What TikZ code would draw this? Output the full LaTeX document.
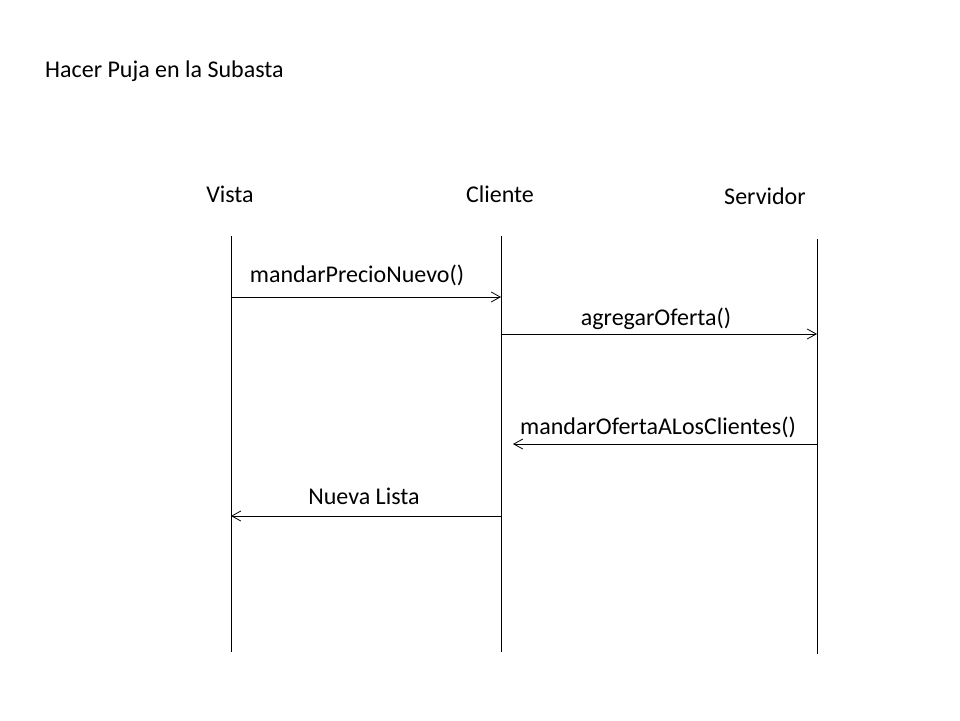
\documentclass[tikz,border=0pt]{standalone}
\usepackage{fontspec}
\setmainfont{Carlito}
\usetikzlibrary{arrows.meta}
\begin{document}
\begin{tikzpicture}[x=1pt,y=-1pt,
  lbl/.style={font=\fontsize{24}{29}\selectfont, inner sep=0pt},
  life/.style={draw=black, line width=0.8pt},
  msg/.style={draw=black, line width=0.8pt, -{Straight Barb[length=9pt,width=10pt,line width=0.8pt]}}]
\useasboundingbox (0,0) rectangle (960,720);
\node[lbl, anchor=west] (title) at (45,71) {Hacer Puja en la Subasta};
\node[lbl] (hv) at (230,194) {Vista};
\node[lbl] (hc) at (500,194) {Cliente};
\node[lbl] (hs) at (765,196) {Servidor};
\coordinate (v1) at (231,236); \coordinate (v2) at (231,652);
\coordinate (c1) at (501,236); \coordinate (c2) at (501,652);
\coordinate (s1) at (817,239); \coordinate (s2) at (817,654);
\draw[life] (v1) -- (v2);
\draw[life] (c1) -- (c2);
\draw[life] (s1) -- (s2);
\coordinate (m1a) at (231,297); \coordinate (m1b) at (501,297);
\coordinate (m2a) at (501,334); \coordinate (m2b) at (817,334);
\coordinate (m3a) at (817,444); \coordinate (m3b) at (513,444);
\coordinate (m4a) at (501,516); \coordinate (m4b) at (231,516);
\draw[msg] (m1a) -- (m1b);
\draw[msg] (m2a) -- (m2b);
\draw[msg] (m3a) -- (m3b);
\draw[msg] (m4a) -- (m4b);
\node[lbl] (l1) at (357,275) {mandarPrecioNuevo()};
\node[lbl] (l2) at (656,319) {agregarOferta()};
\node[lbl] (l3) at (658,427) {mandarOfertaALosClientes()};
\node[lbl] (l4) at (364,496) {Nueva Lista};
\end{tikzpicture}
\end{document}
